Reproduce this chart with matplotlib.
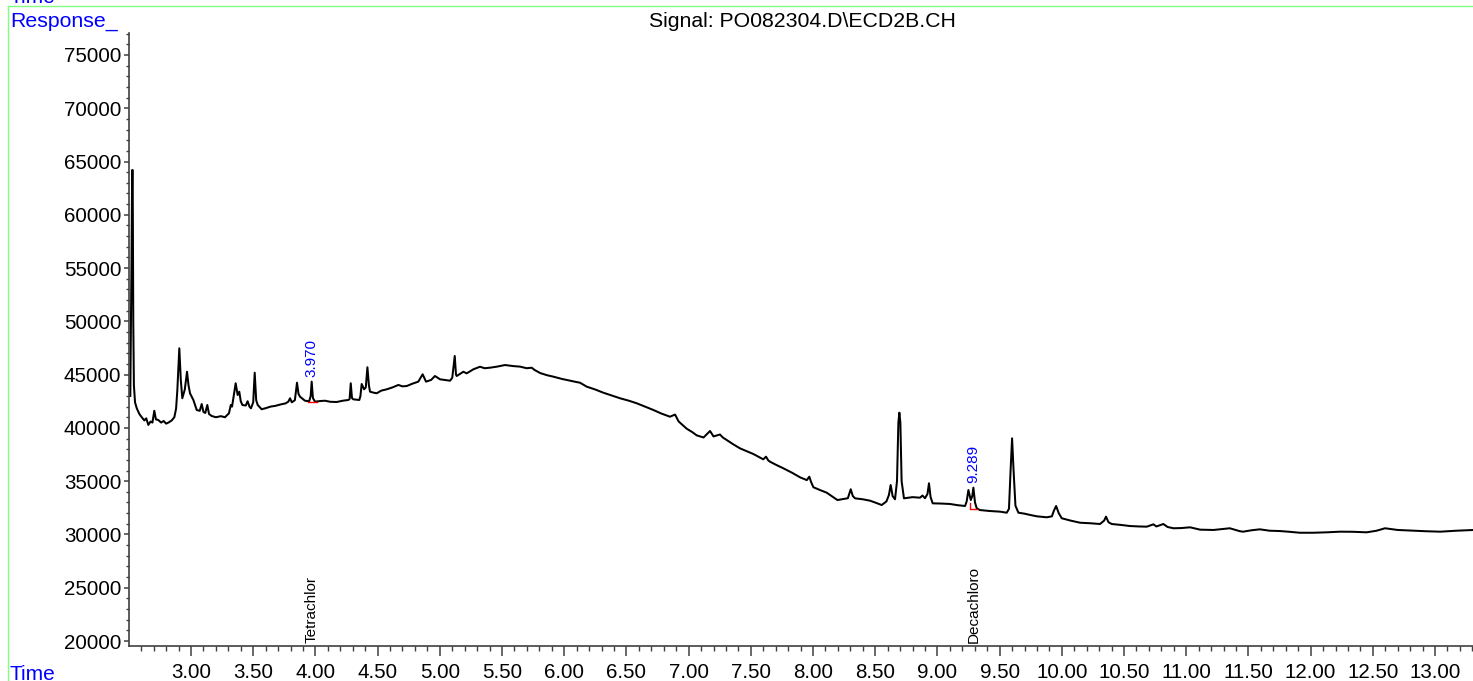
import matplotlib
matplotlib.use("Agg")
import matplotlib.pyplot as plt
from matplotlib.lines import Line2D
from matplotlib.ticker import MultipleLocator, FormatStrFormatter

plt.rcParams['font.family'] = ['Liberation Sans', 'DejaVu Sans']

# ---- data (retention time in min, response) ----
rt = [2.512, 2.522, 2.527, 2.531, 2.536, 2.541, 2.550, 2.564, 2.585, 2.604,
      2.625, 2.640, 2.657, 2.675, 2.690, 2.705, 2.718, 2.737, 2.760, 2.780,
      2.800, 2.817, 2.845, 2.866, 2.880, 2.890, 2.906, 2.918, 2.930, 2.950,
      2.968, 2.980, 2.992, 3.019, 3.046, 3.070, 3.086, 3.100, 3.115, 3.131,
      3.145, 3.166, 3.200, 3.240, 3.273, 3.305, 3.320, 3.330, 3.359, 3.375,
      3.388, 3.400, 3.413, 3.440, 3.455, 3.470, 3.482, 3.500, 3.512, 3.524,
      3.536, 3.568, 3.600, 3.640, 3.675, 3.720, 3.760, 3.782, 3.796, 3.810,
      3.835, 3.852, 3.864, 3.876, 3.900, 3.916, 3.950, 3.962, 3.970, 3.980,
      3.997, 4.037, 4.077, 4.120, 4.171, 4.220, 4.264, 4.275, 4.284, 4.294,
      4.305, 4.353, 4.362, 4.372, 4.391, 4.405, 4.418, 4.430, 4.439, 4.470,
      4.493, 4.530, 4.573, 4.620, 4.667, 4.700, 4.734, 4.780, 4.827, 4.862,
      4.889, 4.930, 4.961, 5.002, 5.040, 5.082, 5.100, 5.120, 5.130, 5.136,
      5.189, 5.216, 5.270, 5.323, 5.360, 5.404, 5.460, 5.524, 5.560, 5.591,
      5.645, 5.698, 5.739, 5.760, 5.806, 5.860, 5.912, 5.980, 6.047, 6.100,
      6.127, 6.181, 6.250, 6.315, 6.380, 6.449, 6.520, 6.583, 6.650, 6.717,
      6.780, 6.850, 6.891, 6.920, 6.985, 7.030, 7.065, 7.120, 7.172, 7.200,
      7.252, 7.275, 7.306, 7.360, 7.413, 7.470, 7.520, 7.600, 7.622, 7.640,
      7.654, 7.700, 7.761, 7.830, 7.896, 7.950, 7.970, 7.985, 8.003, 8.060,
      8.110, 8.150, 8.196, 8.280, 8.303, 8.320, 8.338, 8.400, 8.458, 8.510,
      8.552, 8.590, 8.610, 8.624, 8.640, 8.659, 8.675, 8.686, 8.694, 8.702,
      8.712, 8.731, 8.800, 8.860, 8.880, 8.900, 8.920, 8.932, 8.945, 8.962,
      9.030, 9.101, 9.160, 9.222, 9.235, 9.249, 9.268, 9.280, 9.289, 9.302,
      9.316, 9.342, 9.420, 9.503, 9.557, 9.575, 9.588, 9.600, 9.612, 9.627,
      9.651, 9.700, 9.745, 9.800, 9.879, 9.920, 9.935, 9.954, 9.975, 9.999,
      10.070, 10.147, 10.230, 10.307, 10.340, 10.355, 10.375, 10.401, 10.470, 10.548,
      10.620, 10.683, 10.736, 10.760, 10.816, 10.850, 10.897, 10.960, 11.031, 11.111,
      11.219, 11.350, 11.432, 11.457, 11.530, 11.592, 11.670, 11.752, 11.830, 11.913,
      12.020, 12.130, 12.236, 12.340, 12.450, 12.530, 12.598, 12.700, 12.825, 12.930,
      13.042, 13.170, 13.297, 13.310]

response = [43000, 56000, 64200, 64200, 50000, 44000, 42400, 41840, 41300, 41000,
            40700, 40900, 40280, 40600, 40500, 41610, 40800, 40740, 40500, 40650,
            40400, 40490, 40700, 41000, 41800, 43500, 47470, 44500, 42780, 43600,
            45270, 44000, 43250, 42620, 41680, 41600, 42240, 41500, 41400, 42150,
            41300, 41120, 41000, 41100, 41000, 41370, 42150, 42000, 44190, 43090,
            43400, 42500, 42150, 42100, 42500, 42000, 41840, 42400, 45180, 42600,
            42150, 41750, 41850, 42000, 42060, 42200, 42300, 42460, 42780, 42400,
            42600, 44240, 43200, 42930, 42700, 42550, 42500, 43000, 44340, 42800,
            42460, 42520, 42550, 42450, 42430, 42550, 42620, 42700, 44190, 42800,
            42680, 42620, 43000, 44120, 43620, 43800, 45690, 44000, 43400, 43300,
            43250, 43500, 43620, 43800, 44030, 43900, 43930, 44150, 44340, 45030,
            44340, 44500, 44870, 44560, 44500, 44430, 44700, 46750, 45000, 44870,
            45270, 45120, 45500, 45740, 45600, 45650, 45750, 45900, 45850, 45800,
            45750, 45600, 45650, 45450, 45150, 44950, 44810, 44600, 44430, 44300,
            44240, 43870, 43600, 43300, 43050, 42780, 42550, 42310, 42000, 41680,
            41350, 41050, 41250, 40600, 39920, 39600, 39300, 39100, 39710, 39200,
            39380, 39100, 38860, 38450, 38080, 37800, 37550, 37050, 37300, 36950,
            36830, 36550, 36210, 35800, 35360, 35100, 35420, 34900, 34430, 34150,
            33920, 33600, 33230, 33400, 34240, 33600, 33390, 33300, 33170, 32950,
            32760, 33100, 33700, 34640, 33600, 33300, 35000, 40500, 41430, 40500,
            35000, 33390, 33500, 33450, 33650, 33400, 33800, 34800, 33500, 32920,
            32900, 32860, 32750, 32670, 33100, 34170, 33230, 33600, 34390, 33000,
            32450, 32290, 32200, 32140, 32040, 32400, 36000, 39020, 36000, 32700,
            32040, 31950, 31830, 31700, 31610, 31700, 32200, 32670, 32000, 31520,
            31300, 31100, 31050, 30980, 31300, 31670, 31150, 30980, 30900, 30790,
            30750, 30730, 30950, 30750, 30980, 30700, 30580, 30600, 30670, 30450,
            30420, 30580, 30300, 30260, 30400, 30480, 30350, 30320, 30250, 30160,
            30160, 30200, 30260, 30250, 30200, 30350, 30580, 30420, 30350, 30300,
            30260, 30350, 30420, 30420]

# integrated peaks
peak_rt = [3.970, 9.289]
peak_resp = [44340, 34390]
peak_labels = ['3.970', '9.289']
compound_names = ['Tetrachlor', 'Decachloro']

# integration baselines (red)
base1_t = [3.943, 4.015]
base1_v = [42460, 42460]
base2_t = [9.261, 9.261, 9.316]
base2_v = [32920, 32360, 32360]

x_ticks = [3.00, 3.50, 4.00, 4.50, 5.00, 5.50, 6.00, 6.50, 7.00, 7.50, 8.00,
           8.50, 9.00, 9.50, 10.00, 10.50, 11.00, 11.50, 12.00, 12.50, 13.00]
y_ticks = [20000, 25000, 30000, 35000, 40000, 45000, 50000, 55000, 60000,
           65000, 70000, 75000]

W, H = 1473, 681
fig = plt.figure(figsize=(W / 100, H / 100), dpi=100)
ax = fig.add_axes([129 / W, 35.3 / H, 1 - 129 / W, (645.7 - 33) / H])

ax.plot(rt, response, color='black', lw=1.45, solid_joinstyle='round')
ax.plot(base1_t, base1_v, color='red', lw=1.0)
ax.plot(base2_t, base2_v, color='red', lw=1.0)

for t, v, lab in zip(peak_rt, peak_resp, peak_labels):
    ax.annotate(lab, xy=(t, v), xytext=(0, 3.5), textcoords='offset points',
                rotation=90, ha='center', va='bottom', color='blue', fontsize=11)
for t, name in zip(peak_rt, compound_names):
    ax.annotate(name, xy=(t, 0), xycoords=('data', 'axes fraction'),
                xytext=(0, 2), textcoords='offset points',
                rotation=90, ha='center', va='bottom', color='black', fontsize=11)

ax.set_xlim(2.5016, 13.305)
ax.set_ylim(19559, 77061)
ax.set_xticks(x_ticks)
ax.set_yticks(y_ticks)
ax.xaxis.set_major_formatter(FormatStrFormatter('%.2f'))
ax.xaxis.set_minor_locator(MultipleLocator(0.1))
ax.yaxis.set_minor_locator(MultipleLocator(1000))

for s in ['top', 'right']:
    ax.spines[s].set_visible(False)
for s in ['left', 'bottom']:
    ax.spines[s].set_color('#404040')
    ax.spines[s].set_linewidth(1.2)

ax.tick_params(axis='x', which='major', length=7.2, width=1.1, color='#404040',
               labelsize=14.8, pad=5.5)
ax.tick_params(axis='x', which='minor', length=3.6, width=1.0, color='#404040')
ax.tick_params(axis='y', which='major', length=3.6, width=1.1, color='#404040',
               labelsize=14.8, pad=2)
ax.tick_params(axis='y', which='minor', length=2.2, width=1.0, color='#404040')

# frame lines and header texts
green = '#80ff80'
fig.add_artist(Line2D([8.3 / W, 8.3 / W], [0, 1 - 6 / H], color=green, lw=1.0,
                      transform=fig.transFigure))
fig.add_artist(Line2D([8.3 / W, 1], [1 - 6 / H, 1 - 6 / H], color=green, lw=1.0,
                      transform=fig.transFigure))
fig.text(10 / W, 1 - 3 / H, 'Time', color='blue', fontsize=15, va='baseline', ha='left')
fig.text(10 / W, 1 - 26.7 / H, 'Response_', color='blue', fontsize=15.3,
         va='baseline', ha='left')
fig.text(10 / W, 1.5 / H, 'Time', color='blue', fontsize=15, va='baseline', ha='left')
fig.text(802 / W, 1 - 26.7 / H, 'Signal: PO082304.D\\ECD2B.CH', color='black',
         fontsize=15.3, va='baseline', ha='center')

fig.savefig('out.png', dpi=100)
